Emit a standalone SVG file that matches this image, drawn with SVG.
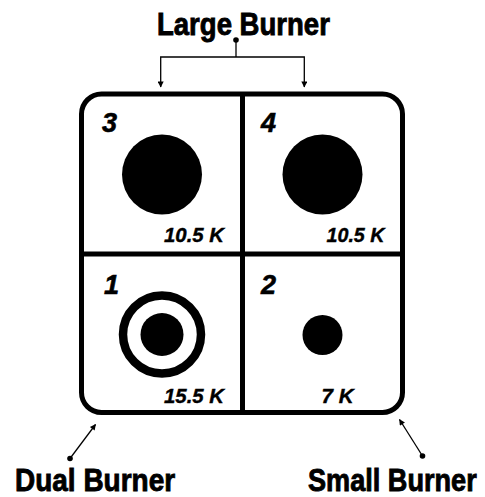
<svg xmlns="http://www.w3.org/2000/svg" width="485" height="497" viewBox="0 0 485 497">
<defs>
<style>
.title{font-family:"Liberation Sans",Arial,sans-serif;font-weight:bold;font-size:32px;fill:#000;stroke:#000;stroke-width:0.9}
.num{font-family:"Liberation Sans",Arial,sans-serif;font-weight:bold;font-style:italic;font-size:27px;fill:#000;stroke:#000;stroke-width:0.6}
.val{font-family:"Liberation Sans",Arial,sans-serif;font-weight:bold;font-style:italic;font-size:20px;fill:#000;stroke:#000;stroke-width:0.4}
.con{fill:none;stroke:#000;stroke-width:1.3}
</style>
<marker id="ah" viewBox="0 0 10 10" refX="9" refY="5" markerWidth="8" markerHeight="6" orient="auto" markerUnits="userSpaceOnUse">
<path d="M0,0 L10,5 L0,10 Z" fill="#000"/>
</marker>
</defs>
<rect width="485" height="497" fill="#fff"/>
<g id="cooktop">
<rect x="81.5" y="94" width="321" height="318.5" rx="20" ry="20" fill="#fff" stroke="#000" stroke-width="5"/>
<line x1="242.5" y1="94" x2="242.5" y2="412.5" stroke="#000" stroke-width="5"/>
<line x1="81.5" y1="254" x2="402.5" y2="254" stroke="#000" stroke-width="5"/>
</g>
<g id="burner3">
<text class="num" x="102" y="132">3</text>
<circle cx="162" cy="174.5" r="40" fill="#000"/>
<text class="val" x="224" y="242" text-anchor="end" textLength="60" lengthAdjust="spacingAndGlyphs">10.5 K</text>
</g>
<g id="burner4">
<text class="num" x="261" y="132">4</text>
<circle cx="322.5" cy="174.5" r="40" fill="#000"/>
<text class="val" x="384.5" y="242" text-anchor="end" textLength="58" lengthAdjust="spacingAndGlyphs">10.5 K</text>
</g>
<g id="burner1">
<text class="num" x="104" y="294">1</text>
<circle cx="162" cy="334.5" r="39" fill="none" stroke="#000" stroke-width="8.5"/>
<circle cx="162" cy="334.5" r="21.5" fill="#000"/>
<text class="val" x="224" y="403" text-anchor="end" textLength="60" lengthAdjust="spacingAndGlyphs">15.5 K</text>
</g>
<g id="burner2">
<text class="num" x="261" y="294">2</text>
<circle cx="322.5" cy="335" r="20" fill="#000"/>
<text class="val" x="353.5" y="403" text-anchor="end" textLength="32" lengthAdjust="spacingAndGlyphs">7 K</text>
</g>
<g id="label-large">
<text class="title" transform="translate(157,35) scale(0.86,1)" x="0" y="0" textLength="201" lengthAdjust="spacingAndGlyphs">Large Burner</text>
</g>
<g id="label-dual">
<text class="title" transform="translate(15,491) scale(0.87,1)" x="0" y="0" textLength="184" lengthAdjust="spacingAndGlyphs">Dual Burner</text>
</g>
<g id="label-small">
<text class="title" transform="translate(308,491) scale(0.85,1)" x="0" y="0" textLength="198.5" lengthAdjust="spacingAndGlyphs">Small Burner</text>
</g>
<g id="connectors">
<circle cx="236" cy="40" r="2.8" fill="#000"/>
<line class="con" x1="236" y1="40" x2="236" y2="57"/>
<polyline class="con" points="236,57 160.7,57 160.7,87" marker-end="url(#ah)"/>
<polyline class="con" points="236,57 304.3,57 304.3,87" marker-end="url(#ah)"/>
<circle cx="70" cy="458.5" r="2.8" fill="#000"/>
<line class="con" x1="70" y1="458.5" x2="95.5" y2="424.5" marker-end="url(#ah)"/>
<circle cx="422.5" cy="456" r="2.8" fill="#000"/>
<line class="con" x1="422.5" y1="456" x2="399.5" y2="419.5" marker-end="url(#ah)"/>
</g>
</svg>
